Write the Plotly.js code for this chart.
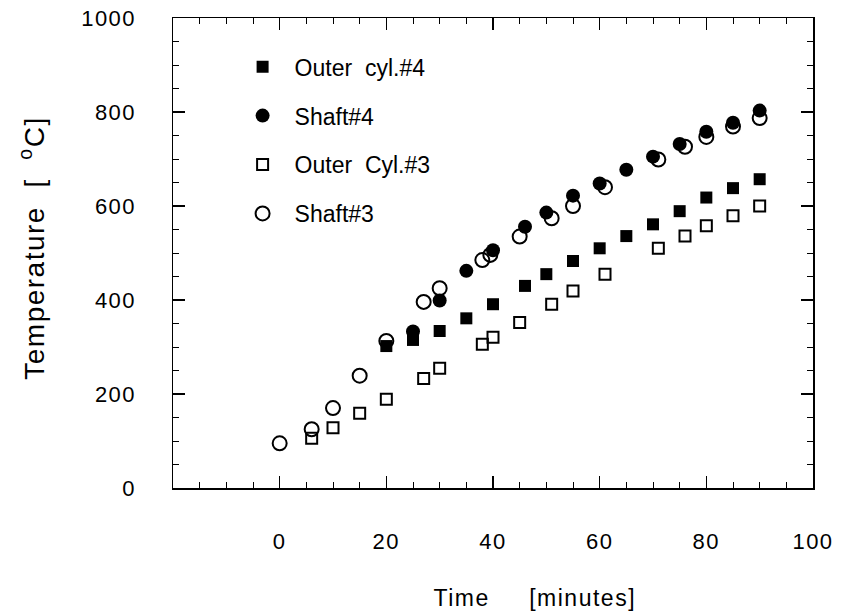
<!DOCTYPE html>
<html>
<head>
<meta charset="utf-8">
<script src="https://cdn.plot.ly/plotly-3.0.1.min.js"></script>
<style>
  html, body { margin: 0; padding: 0; background: #fff; }
  #chart { width: 843px; height: 615px; }
  #chart .xtick text, #chart .ytick text { letter-spacing: 1.5px; }
  #chart .annotation-text { letter-spacing: 1.5px; }
</style>
</head>
<body>
<div id="chart"></div>
<script>
// Series: Outer cyl.#4 (filled squares)
const outer4Time = [20, 25, 30, 35, 40, 46, 50, 55, 60, 65, 70, 75, 80, 85, 90];
const outer4Temp = [302, 315, 334, 361, 391, 430, 455, 483, 510, 536, 561, 589, 618, 638, 657];

// Series: Shaft#4 (filled circles)
const shaft4Time = [25, 30, 35, 40, 46, 50, 55, 60, 65, 70, 75, 80, 85, 90];
const shaft4Temp = [333, 399, 462, 506, 556, 586, 622, 648, 677, 705, 732, 758, 777, 803];

// Series: Outer Cyl.#3 (open squares)
const outer3Time = [6, 10, 15, 20, 27, 30, 38, 40, 45, 51, 55, 61, 71, 76, 80, 85, 90];
const outer3Temp = [106, 128, 159, 189, 233, 255, 306, 321, 352, 391, 419, 455, 510, 536, 558, 579, 600];

// Series: Shaft#3 (open circles)
const shaft3Time = [0, 6, 10, 15, 20, 27, 30, 38, 39.5, 45, 51, 55, 61, 71, 76, 80, 85, 90];
const shaft3Temp = [95, 125, 170, 239, 313, 396, 425, 485, 496, 535, 574, 600, 640, 699, 726, 747, 769, 787];

// Tick labels
const xTickVals = [0, 20, 40, 60, 80, 100];
const xTickText = ['0', '20', '40', '60', '80', '100'];
const yTickVals = [0, 200, 400, 600, 800, 1000];
const yTickText = ['0', '200', '400', '600', '800', '1000'];

const names = ['Outer\u00a0\u00a0cyl.#4', 'Shaft#4', 'Outer\u00a0\u00a0Cyl.#3', 'Shaft#3'];

const font = 'Liberation Sans, Arial, Helvetica, sans-serif';

const traces = [
  {x: outer4Time, y: outer4Temp, name: names[0], legendgroup: 'a',
   marker: {symbol: 'square', size: 12, color: '#000'}},
  {x: shaft4Time, y: shaft4Temp, name: names[1], legendgroup: 'b',
   marker: {symbol: 'circle', size: 14, color: '#000'}},
  {x: outer3Time, y: outer3Temp, name: names[2], legendgroup: 'c',
   marker: {symbol: 'square-open', size: 11, color: '#000', line: {width: 2, color: '#000'}}},
  {x: shaft3Time, y: shaft3Temp, name: names[3], legendgroup: 'd',
   marker: {symbol: 'circle-open', size: 14, color: '#000', line: {width: 2, color: '#000'}}}
].map(t => Object.assign({type: 'scatter', mode: 'markers', hoverinfo: 'x+y'}, t));

const axisCommon = {
  showline: true, linecolor: '#000', linewidth: 1.5,
  mirror: 'allticks', ticks: 'inside', ticklen: 12, tickwidth: 1.3, tickcolor: '#000',
  showgrid: false, zeroline: false,
  tickfont: {family: font, size: 22, color: '#000'}
};

const layout = {
  width: 843, height: 615,
  margin: {l: 173, r: 30, t: 18, b: 127},
  paper_bgcolor: '#fff', plot_bgcolor: '#fff',
  showlegend: true,
  legend: {
    x: 0.09, y: 0.942, xanchor: 'left', yanchor: 'top',
    traceorder: 'grouped', tracegroupgap: 16, itemwidth: 54,
    font: {family: font, size: 23, color: '#000'},
    bgcolor: 'rgba(0,0,0,0)', borderwidth: 0
  },
  xaxis: Object.assign({}, axisCommon, {
    range: [-20, 100], tickmode: 'array', tickvals: xTickVals, ticktext: xTickText,
    ticklabelstandoff: 33,
    minor: {dtick: 5, ticks: 'inside', ticklen: 6, tickwidth: 1, tickcolor: '#000', showgrid: false}
  }),
  yaxis: Object.assign({}, axisCommon, {
    range: [0, 1000], tickmode: 'array', tickvals: yTickVals, ticktext: yTickText,
    ticklabelstandoff: 31,
    minor: {dtick: 50, ticks: 'inside', ticklen: 6, tickwidth: 1, tickcolor: '#000', showgrid: false}
  }),
  annotations: [
    {text: 'Time\u00a0\u00a0\u00a0\u00a0\u00a0[minutes]', xref: 'paper', yref: 'paper',
     x: 0.566, y: -0.234, xanchor: 'center', yanchor: 'middle', showarrow: false,
     font: {family: font, size: 23, color: '#000'}},
    {text: 'Temperature\u00a0\u00a0[\u00a0\u00a0<sup>o</sup>C]', xref: 'paper', yref: 'paper',
     x: -0.22, y: 0.51, xanchor: 'center', yanchor: 'middle', showarrow: false, textangle: -90,
     font: {family: font, size: 28, color: '#000'}}
  ]
};

Plotly.newPlot('chart', traces, layout, {displayModeBar: false, staticPlot: true});
</script>
</body>
</html>
